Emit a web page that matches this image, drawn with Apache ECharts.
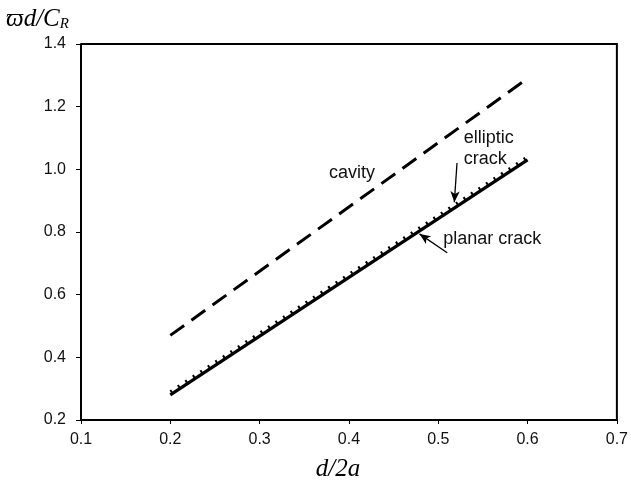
<!DOCTYPE html>
<html>
<head>
<meta charset="utf-8">
<script src="https://cdn.jsdelivr.net/npm/echarts@6/dist/echarts.min.js"></script>
<style>
  html, body { margin: 0; padding: 0; background: #fff; }
  #chart-container { width: 631px; height: 489px; }
</style>
</head>
<body>
<div id="chart-container"></div>
<script>
// values
let dValues = [0.2, 0.6];
let cavity = [0.47, 1.29];
let planarCrack = [0.28, 1.03];
let ellipticCrack = [0.29, 1.04];

let xTicks = [0.1, 0.2, 0.3, 0.4, 0.5, 0.6, 0.7];
let yTicks = [0.2, 0.4, 0.6, 0.8, 1.0, 1.2, 1.4];

// annotations in data space
let labelCavity = [0.377, 0.988];
let labelElliptic = [0.528, 1.065];
let labelPlanar = [0.505, 0.778];
let arrowElliptic = [[0.521, 1.02], [0.518, 0.895]];
let arrowPlanar = [[0.51, 0.734], [0.479, 0.794]];

function init() {
  let pairs = (ys) => dValues.map((x, i) => [x, ys[i]]);
  let tickFont = {
    fontFamily: 'Liberation Sans',
    fontSize: 16,
    color: '#111'
  };
  let textMark = (pos, text) => ({
    coord: pos,
    symbol: 'circle',
    symbolSize: 1,
    itemStyle: { color: 'rgba(0,0,0,0)' },
    label: {
      show: true,
      formatter: text,
      position: 'right',
      distance: 0,
      align: 'left',
      verticalAlign: 'middle',
      lineHeight: 21,
      fontFamily: 'Liberation Sans',
      fontSize: 18,
      color: '#111'
    }
  });
  let arrowLine = (pts) => [
    { coord: pts[0], symbol: 'none' },
    { coord: pts[1], symbol: 'arrow', symbolSize: [7, 11] }
  ];

  let series = [
    {
      name: 'cavity',
      type: 'line',
      symbol: 'none',
      lineStyle: { color: '#000', width: 3, type: [17, 9] },
      data: pairs(cavity),
      markPoint: {
        silent: true,
        data: [
          textMark(labelCavity, 'cavity'),
          textMark(labelElliptic, 'elliptic\ncrack'),
          textMark(labelPlanar, 'planar crack')
        ]
      },
      markLine: {
        silent: true,
        lineStyle: { color: '#000', width: 1.3, type: 'solid' },
        label: { show: false },
        data: [arrowLine(arrowElliptic), arrowLine(arrowPlanar)]
      }
    },
    {
      name: 'elliptic crack',
      type: 'line',
      symbol: 'none',
      lineStyle: { color: '#000', width: 3, type: [2, 7] },
      data: pairs(ellipticCrack)
    },
    {
      name: 'planar crack',
      type: 'line',
      symbol: 'none',
      lineStyle: { color: '#000', width: 3.2 },
      data: pairs(planarCrack)
    }
  ];

  let serif = 'Liberation Serif';
  let option = {
    animation: false,
    title: {
      text: '{m|ϖd/C}{s|R}',
      left: 1,
      top: 1,
      textStyle: {
        rich: {
          m: { fontFamily: serif, fontStyle: 'italic', fontWeight: 'normal', fontSize: 25, color: '#000' },
          s: { fontFamily: serif, fontStyle: 'italic', fontWeight: 'normal', fontSize: 15, color: '#000', padding: [11, 0, 0, 0] }
        }
      }
    },
    grid: { left: 81, right: 12, top: 44, bottom: 69 },
    xAxis: {
      type: 'value',
      min: xTicks[0],
      max: xTicks[xTicks.length - 1],
      interval: 0.1,
      name: 'd/2a',
      nameLocation: 'middle',
      nameGap: 37,
      nameTextStyle: {
        fontFamily: serif,
        fontStyle: 'italic',
        fontSize: 25,
        color: '#000',
        padding: [0, 22, 0, 0]
      },
      axisLine: { show: true, lineStyle: { color: '#000', width: 2 } },
      axisTick: { show: true, inside: false, length: 4, lineStyle: { color: '#000' } },
      axisLabel: { ...tickFont, margin: 12, formatter: (v) => v.toFixed(1) },
      splitLine: { show: false }
    },
    yAxis: {
      type: 'value',
      min: yTicks[0],
      max: yTicks[yTicks.length - 1],
      interval: 0.2,
      axisLine: { show: true, lineStyle: { color: '#000', width: 2 } },
      axisTick: { show: true, inside: false, length: 5, lineStyle: { color: '#000' } },
      axisLabel: { ...tickFont, margin: 15, formatter: (v) => v.toFixed(1) },
      splitLine: { show: false }
    },
    series
  };

  let myChart = echarts.init(document.getElementById('chart-container'));
  myChart.setOption(option);

  // frame on top and right like the original box
  let tl = myChart.convertToPixel({ gridIndex: 0 }, [xTicks[0], yTicks[yTicks.length - 1]]);
  let br = myChart.convertToPixel({ gridIndex: 0 }, [xTicks[xTicks.length - 1], yTicks[0]]);
  myChart.setOption({
    graphic: [{
      type: 'polyline',
      shape: { points: [[tl[0], tl[1]], [br[0], tl[1]], [br[0], br[1]]] },
      style: { stroke: '#000', lineWidth: 2, fill: null },
      silent: true
    }]
  });
}
init();
</script>
</body>
</html>
